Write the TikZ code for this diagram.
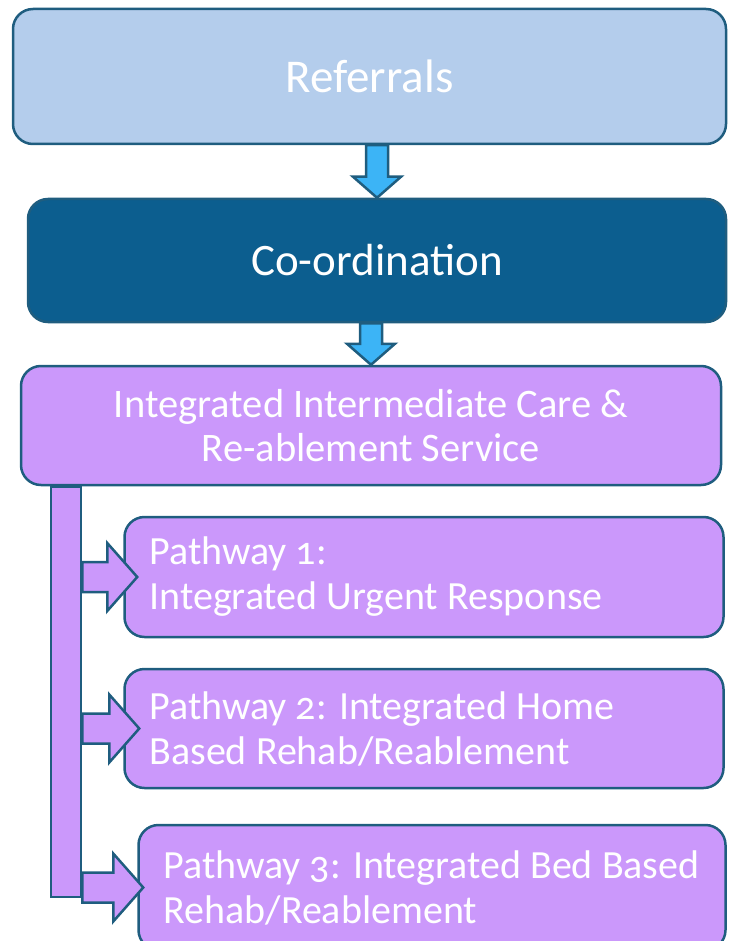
\documentclass[tikz,border=0pt]{standalone}
\usepackage{fontspec}
\setmainfont[Numbers=OldStyle]{Carlito}
\usepackage{tikz}
\usetikzlibrary{calc,positioning}

\definecolor{refblue}{HTML}{B4CDEC}
\definecolor{coordblue}{HTML}{0C5E8F}
\definecolor{careviolet}{HTML}{CB98FB}
\definecolor{arrowblue}{HTML}{3CB4F6}
\definecolor{edgeblue}{HTML}{1F5D7F}

% block arrow pointing down, from the bottom of #1 to the top of #2
\newcommand{\blockdown}[2]{%
  \draw[block_arrow, fill=arrowblue]
    ($(#2.north |- #1.south)+(-11,0)$) -- ($(#2.north)+(-11,-21)$)
    -- ($(#2.north)+(-24,-21)$) -- (#2.north) -- ($(#2.north)+(24,-21)$)
    -- ($(#2.north)+(11,-21)$) -- ($(#2.north |- #1.south)+(11,0)$) -- cycle;}

% block arrow pointing right, from the spine #1 into box #2 (#3 = overlap)
\newcommand{\blockright}[3]{%
  \draw[block_arrow, fill=careviolet]
    ($(#1.east |- #2.west)+(0,-15)$) -- ($(#2.west)+(#3-30,-15)$)
    -- ($(#2.west)+(#3-30,-34)$) -- ($(#2.west)+(#3,0)$) -- ($(#2.west)+(#3-30,34)$)
    -- ($(#2.west)+(#3-30,15)$) -- ($(#1.east |- #2.west)+(0,15)$) -- cycle;}

\begin{document}
\begin{tikzpicture}[x=1pt, y=-1pt,
                    every node/.style={draw=edgeblue, line width=2.5pt, text=white},
                    box/.style={rounded corners=20pt, align=center,
                                font=\fontsize{40.5}{44}\selectfont},
                    pathbox/.style={box, fill=careviolet, align=flush left,
                                    inner xsep=25pt, inner ysep=0pt,
                                    font=\fontsize{40}{45}\selectfont},
                    block_arrow/.style={draw=edgeblue, line width=2.5pt, line join=miter}]
    \useasboundingbox (0,0) rectangle (729,941);
    \clip (0,0) rectangle (729,941);

    % Define boxes
    \node[box, fill=refblue, minimum width=713pt, minimum height=135pt,
          font=\fontsize{47}{50}\selectfont] (referrals) at (369.5,76.5) {Referrals};
    \node[box, fill=coordblue, minimum width=698pt, minimum height=123pt,
          font=\fontsize{45}{48}\selectfont] (coordination) at (377,260.5) {Co-ordination};
    \node[box, fill=careviolet, minimum width=700pt, minimum height=119pt]
          (integrated_service) at (371,425.5) {Integrated Intermediate Care \&\\Re-ablement Service};

    \node[draw=edgeblue, fill=careviolet, minimum width=30pt, minimum height=410pt,
          inner sep=0pt] (spine) at (66,692) {};

    \node[pathbox, text width=549pt, minimum height=120pt]
          (pathway_one) at (424,577) {Pathway 1:\\Integrated Urgent Response};
    \node[pathbox, text width=549pt, minimum height=119pt]
          (pathway_two) at (424,728.5) {Pathway 2: Integrated Home\\Based Rehab/Reablement};
    \node[pathbox, text width=537pt, minimum height=125pt]
          (pathway_three) at (432,887.5) {Pathway 3: Integrated Bed Based\\Rehab/Reablement};

    % Define transitions
    \blockdown{referrals}{coordination}
    \blockdown{coordination}{integrated_service}
    \blockright{spine}{pathway_one}{14}
    \blockright{spine}{pathway_two}{16}
    \blockright{spine}{pathway_three}{6}

\end{tikzpicture}
\end{document}
